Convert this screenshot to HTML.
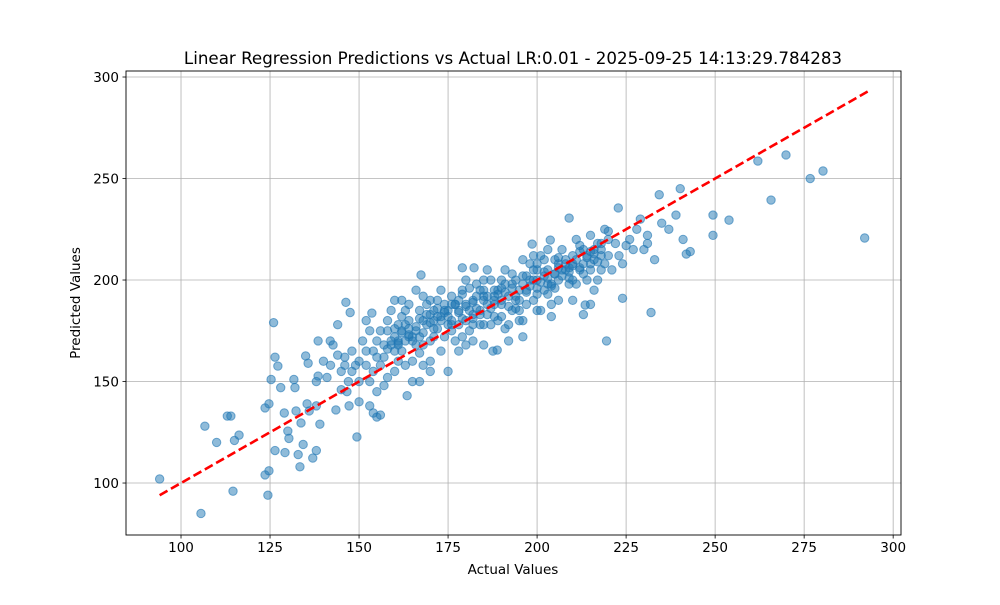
<!DOCTYPE html>
<html><head><meta charset="utf-8"><style>
body{margin:0;background:#fff;font-family:"Liberation Sans","DejaVu Sans",sans-serif}
svg text{font-family:"DejaVu Sans","Liberation Sans",sans-serif;fill:#000}
</style></head><body>
<svg id="c" width="1000" height="600" xmlns="http://www.w3.org/2000/svg"></svg>
<script>
const xTicks=[100,125,150,175,200,225,250,275,300];
const yTicks=[100,150,200,250,300];
const fitLine=[94,293];
const outX=[94,105.6,106.7,110,113,114,114.6,115,116.3,123.6,124.7,123.6,124.7,124.4,125.3,126,126.4,127.2,126.4,129.2,128,129,130.3,130,131.7,132,132.3,132.9,133.4,134.3,133.7,135,135.7,135.4,136,137,138,138,138.5,138.5,139,141,141.9,142.7,144,143.5,145,146.6,146.3,147.5,147.2,149.4,153.6,154,155,156,162,163.5,167.4,179,182.3,187.6,188.8,198.6,203.7,209,213.5,213,219.5,222.8,224,232,234.3,240.2,241.9,249.4,249.4,253.9,262,265.7,269.9,276.7,280.3,292];
const outY=[102,85,128,120,133,133,96,121,123.6,137,139,104,106,94,151,179,162,157.6,116,115,147,134.5,122,125.6,151,147,135.5,114,108,119,129.6,162.6,159,139,135.5,112.3,116,138,152.7,170,129,152,170,168,178,136,146,145,189,184,138,122.7,183.7,134.5,132.5,133.5,190,143,202.5,206,206,165,165.5,217.7,219.7,230.5,187.7,183,170,235.5,191,184,242,245,212.8,232,222,229.5,258.6,239.4,261.6,250,253.7,220.7];
const denseX=[148,150,152,153,155,156,157,158,159,160,160,161,162,163,164,165,166,167,168,169,170,171,172,173,174,175,176,177,178,179,180,181,182,183,184,185,186,187,188,189,190,191,192,193,194,195,196,197,198,199,200,201,202,203,204,205,206,207,208,209,210,211,212,213,214,215,216,217,218,219,220,222,224,226,228,230,231,233,235,237,239,241,243,160,162,165,168,170,172,175,178,180,182,185,188,190,193,195,198,200,203,205,208,210,213,216,218,220,155,157,158,161,163,166,168,171,173,176,179,181,184,186,189,191,194,196,199,202,204,206,209,211,214,217,219,221,150,152,154,156,157,159,161,163,164,167,169,171,174,177,180,183,185,187,190,192,195,197,200,201,203,206,146,148,151,153,145,147,149,152,154,158,162,164,166,168,170,172,174,176,178,180,182,184,186,188,190,193,196,199,202,205,207,210,212,215,218,220,223,225,227,229,231,138,140,142,144,146,150,153,155,160,165,167,170,175,178,182,185,192,196,200,204,210,215,216,
159,160,161,162,163,164,165,166,167,168,169,170,171,172,173,174,175,176,177,178,179,180,181,182,183,184,185,186,187,188,189,190,191,192,193,194,195,196,197,198,199,200,201,202,203,204,205,206,207,208,209,210,211,212,213,214,215,216,217,218,158,161,164,167,170,173,176,179,182,185,188,191,194,197,200,203,206,209,212,215];
const denseY=[155,160,165,150,170,158,162,175,168,172,155,178,165,170,180,160,175,185,168,178,190,172,182,165,188,178,192,170,185,195,180,175,190,198,185,178,192,200,182,195,188,205,178,198,190,185,202,195,208,190,200,212,195,205,188,210,200,215,205,198,212,220,205,215,200,222,210,218,205,225,212,218,208,220,225,215,222,210,228,225,232,220,214,165,175,172,180,170,176,185,178,188,183,190,188,196,185,195,200,193,198,203,210,200,208,215,212,220,162,168,152,160,185,168,158,185,195,180,172,196,178,183,180,176,200,180,205,210,197,190,206,198,212,200,208,205,150,158,165,175,148,185,170,158,176,164,188,180,172,188,168,192,200,178,182,192,180,188,208,185,215,208,162,165,170,175,155,150,158,180,155,180,182,188,195,192,160,190,185,175,190,200,178,195,205,195,200,203,210,212,202,196,205,208,214,205,218,224,212,217,215,230,218,150,160,158,163,158,140,138,145,190,150,150,155,155,165,170,168,170,172,185,182,190,188,195,
170,176,168,174,178,172,170,177,181,174,183,179,176,186,180,184,182,178,188,184,181,187,185,189,186,183,192,188,186,190,193,190,194,187,196,192,190,198,194,197,200,196,199,204,201,198,203,206,202,208,204,207,210,206,203,211,208,213,209,215,166,169,173,172,183,182,188,193,181,195,192,198,186,202,205,193,211,201,217,214];
const L=126,R=901,T=71,B=535,X0=84.55,X1=302.2,Y0=74.4,Y1=302.96;
const sx=v=>L+(v-X0)/(X1-X0)*(R-L), sy=v=>B-(v-Y0)/(Y1-Y0)*(B-T);
const svg=document.getElementById('c'),NS='http://www.w3.org/2000/svg';
function mk(t,a,p){const e=document.createElementNS(NS,t);for(const k in a)e.setAttribute(k,a[k]);(p||svg).appendChild(e);return e;}
const grid=mk('g',{});
xTicks.forEach(v=>{const x=sx(v);mk('line',{x1:x,x2:x,y1:T,y2:B,stroke:'#b0b0b0','stroke-width':0.8},grid);
 mk('line',{x1:x,x2:x,y1:B,y2:B+3.5,stroke:'#000','stroke-width':0.8});
 const t=mk('text',{x:x,y:B+17,'text-anchor':'middle','font-size':13.5});t.textContent=v;
 });
yTicks.forEach(v=>{const y=sy(v);mk('line',{x1:L,x2:R,y1:y,y2:y,stroke:'#b0b0b0','stroke-width':0.8},grid);
 mk('line',{x1:L-3.5,x2:L,y1:y,y2:y,stroke:'#000','stroke-width':0.8});
 const t=mk('text',{x:L-7,y:y+5,'text-anchor':'end','font-size':13.5});t.textContent=v;
 });
const pts=mk('g',{});
function pt(x,y){const c=mk('circle',{cx:sx(x),cy:sy(y),r:4.2,fill:'#1f77b4','fill-opacity':0.5,stroke:'#1f77b4','stroke-opacity':0.6,'stroke-width':1},pts);
 }
denseX.forEach((x,i)=>pt(x,denseY[i]));outX.forEach((x,i)=>pt(x,outY[i]));
const ln=mk('line',{x1:sx(fitLine[0]),y1:sy(fitLine[0]),x2:sx(fitLine[1]),y2:sy(fitLine[1]),stroke:'#ff0000','stroke-width':2.6,'stroke-dasharray':'9,4'});

const fr=mk('rect',{x:L,y:T,width:R-L,height:B-T,fill:'none',stroke:'#000','stroke-width':0.9});

let t=mk('text',{x:513,y:64,'text-anchor':'middle','font-size':16.7});t.textContent='Linear Regression Predictions vs Actual LR:0.01 - 2025-09-25 14:13:29.784283';

t=mk('text',{x:513,y:574,'text-anchor':'middle','font-size':13.5});t.textContent='Actual Values';

t=mk('text',{x:80,y:303,'text-anchor':'middle','font-size':13.5,transform:'rotate(-90 80 303)'});t.textContent='Predicted Values';

</script>
</body></html>
